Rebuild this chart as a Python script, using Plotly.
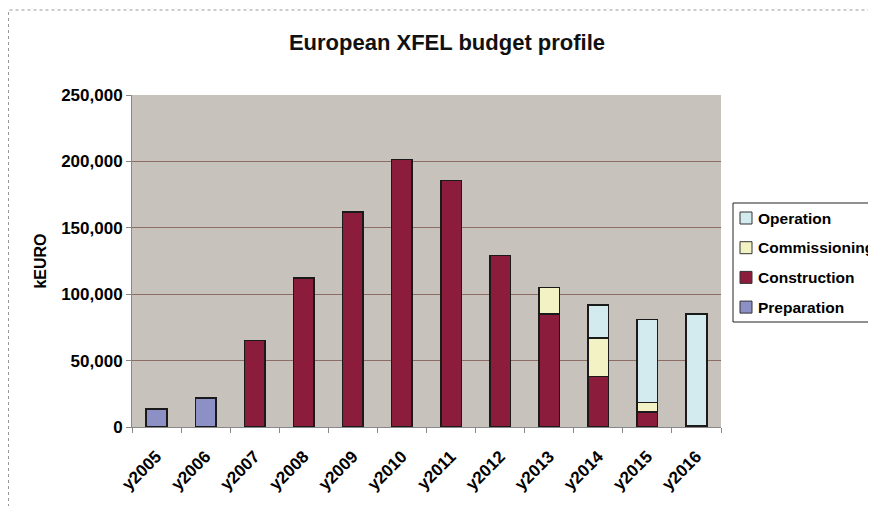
import plotly.graph_objects as go

years = ["y2005", "y2006", "y2007", "y2008", "y2009", "y2010",
         "y2011", "y2012", "y2013", "y2014", "y2015", "y2016"]
preparation = [13500, 22000, 0, 0, 0, 0, 0, 0, 0, 0, 0, 0]
construction = [0, 0, 65000, 112000, 162000, 201500, 185500, 129000, 85000, 38000, 11500, 1000]
commissioning = [0, 0, 0, 0, 0, 0, 0, 0, 20000, 29000, 7000, 0]
operation = [0, 0, 0, 0, 0, 0, 0, 0, 0, 25000, 62500, 84000]

series = [
    ("Preparation", preparation, "#8d90c4"),
    ("Construction", construction, "#8c1c3c"),
    ("Commissioning", commissioning, "#f2f2c4"),
    ("Operation", operation, "#d3eaee"),
]

font_family = "Liberation Sans, Arial, sans-serif"

fig = go.Figure()
for name, vals, col in series:
    fig.add_trace(go.Bar(
        x=years, y=vals, name=name,
        marker=dict(color=col, line=dict(color="#1a1a1a", width=1.6)),
        width=0.42,
    ))

L, R, T, B = 124, 163, 87, 87
PW = 876 - L - R
PH = 506 - T - B


def px(x):
    return (x - L) / PW


def py(y):
    return (T + PH - y) / PH


shapes = [dict(type="rect", xref="paper", yref="paper",
               x0=px(0.5), x1=2.0, y0=-1.0, y1=py(2),
               line=dict(color="#999", width=1, dash="dot"), layer="below"),
          dict(type="rect", xref="paper", yref="paper",
               x0=px(725), x1=px(890), y0=py(314), y1=py(195),
               line=dict(color="#222", width=1), fillcolor="white", layer="above")]
annotations = []
# legend entries, top to bottom (reverse of stacking order)
for i, (name, vals, col) in enumerate(reversed(series)):
    cy = 210 + i * 29.7
    shapes.append(dict(type="rect", xref="paper", yref="paper",
                       x0=px(732), x1=px(744), y0=py(cy + 6), y1=py(cy - 6),
                       line=dict(color="#333", width=1), fillcolor=col, layer="above"))
    annotations.append(dict(xref="paper", yref="paper", x=px(748), y=py(cy),
                            xanchor="left", yanchor="middle", showarrow=False,
                            text=name,
                            font=dict(size=15.5, family=font_family, color="black", weight="bold")))

fig.update_layout(
    width=876, height=506,
    barmode="stack",
    paper_bgcolor="white",
    plot_bgcolor="#c7c2bc",
    margin=dict(l=L, r=R, t=T, b=B, autoexpand=False),
    font=dict(family=font_family, color="black"),
    title=dict(text="<b>European XFEL budget profile</b>", x=439 / 876, xref="container",
               xanchor="center", y=1 - 34 / 506, yanchor="middle",
               font=dict(size=22, family=font_family, color="#111")),
    showlegend=False,
    shapes=shapes,
    annotations=annotations,
)

fig.update_xaxes(
    tickangle=-45,
    tickfont=dict(size=17, family=font_family, color="black", weight="bold"),
    ticklabelstandoff=12,
    showline=True, linecolor="#888", linewidth=1,
    ticks="outside", ticklen=5, tickcolor="#888",
    tickson="boundaries",
    showgrid=False,
)
fig.update_yaxes(
    range=[0, 250000],
    dtick=50000,
    tickformat=",",
    tickfont=dict(size=17, family=font_family, color="black", weight="bold"),
    title=dict(text="<b>kEURO</b>", font=dict(size=16, family=font_family, color="black"), standoff=10),
    showline=True, linecolor="#888", linewidth=1,
    ticks="outside", ticklen=5, tickcolor="#888",
    showgrid=True, gridcolor="#8c6d66", gridwidth=1,
    zeroline=False,
)

fig.write_html("out.html")
